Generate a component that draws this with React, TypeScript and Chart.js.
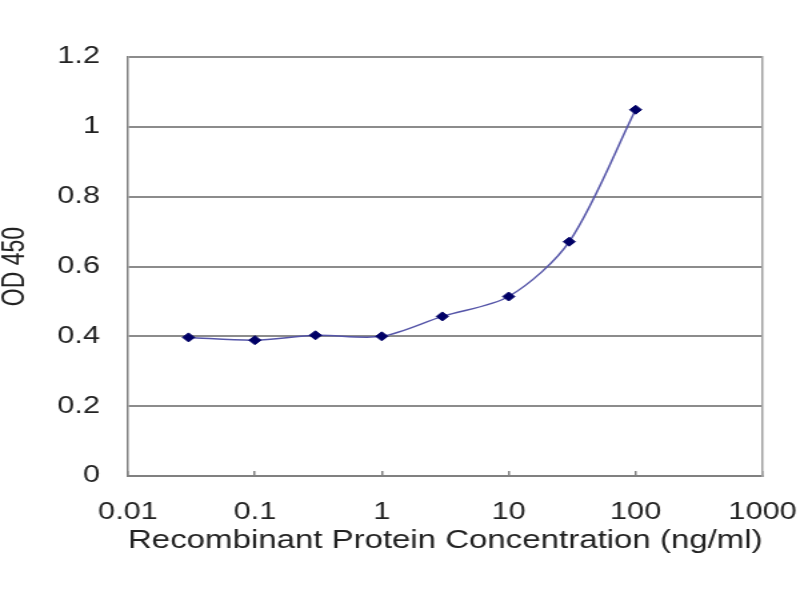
import React, { useEffect, useRef } from "react";
import { Chart, registerables } from "chart.js";

Chart.register(...registerables);

// Data
const concentrations = [0.03, 0.1, 0.3, 1, 3, 10, 30, 100];
const odValues = [0.397, 0.389, 0.403, 0.4, 0.457, 0.514, 0.671, 1.049];

const xTickValues = [0.01, 0.1, 1, 10, 100, 1000];
const xTickLabels = ["0.01", "0.1", "1", "10", "100", "1000"];
const yTickValues = [0, 0.2, 0.4, 0.6, 0.8, 1, 1.2];
const yTickLabels = ["0", "0.2", "0.4", "0.6", "0.8", "1", "1.2"];

const xTitle = "Recombinant Protein Concentration (ng/ml)";
const yTitle = "OD 450";

const FONT = "'Liberation Sans', Arial, Helvetica, sans-serif";
const TEXT = "#222222";

export default function App() {
  const ref = useRef<HTMLCanvasElement | null>(null);

  useEffect(() => {
    if (!ref.current) return;
    const chart = new Chart(ref.current, {
      type: "line",
      data: {
        datasets: [
          {
            data: concentrations.map((c, i) => ({ x: c, y: odValues[i] })),
            borderColor: "#5555a8",
            borderWidth: 1.5,
            tension: 0.3,
            pointStyle: "rectRot",
            pointRadius: 4.5,
            pointBackgroundColor: "#000066",
            pointBorderColor: "#000066",
            pointBorderWidth: 1,
            fill: false,
          },
        ],
      },
      options: {
        animation: false,
        responsive: false,
        devicePixelRatio: 1,
        layout: { padding: { left: 0, right: 0, top: 57, bottom: 0 } },
        plugins: {
          legend: { display: false },
          tooltip: { enabled: false },
        },
        scales: {
          x: {
            type: "logarithmic",
            position: "bottom",
            min: 0.01,
            max: 1000,
            afterBuildTicks: (scale: any) => {
              scale.ticks = xTickValues.map((v) => ({ value: v }));
            },
            afterFit: (scale: any) => {
              scale.height = 124;
            },
            ticks: {
              autoSkip: false,
              maxRotation: 0,
              padding: 2.5,
              color: TEXT,
              font: { family: FONT, size: 23, lineHeight: "79px" },
              callback: (_v: any, i: number) => xTickLabels[i],
            },
            grid: {
              drawOnChartArea: false,
              drawTicks: true,
              tickLength: -5,
              color: "#808080",
              lineWidth: 1.5,
            },
            border: { display: true, color: "#808080", width: 2 },
            title: {
              display: true,
              text: xTitle,
              color: TEXT,
              font: { family: FONT, size: 25, lineHeight: 1 },
              padding: { top: 0, bottom: 46.5 },
            },
          },
          y: {
            type: "linear",
            position: "left",
            min: 0,
            max: 1.2,
            afterBuildTicks: (scale: any) => {
              scale.ticks = yTickValues.map((v) => ({ value: v }));
            },
            afterFit: (scale: any) => {
              scale.width = 96;
            },
            ticks: {
              padding: 21,
              color: TEXT,
              font: { family: FONT, size: 23 },
              callback: (_v: any, i: number) => yTickLabels[i],
            },
            grid: {
              drawTicks: false,
              color: "#8c8c8c",
              lineWidth: 2,
            },
            border: { display: true, color: "#808080", width: 1.5 },
            title: {
              display: true,
              text: yTitle,
              color: TEXT,
              font: { family: FONT, size: 23, lineHeight: 1 },
              padding: { top: 0, bottom: 0 },
            },
          },
          y2: {
            type: "linear",
            position: "right",
            min: 0,
            max: 1.2,
            afterFit: (scale: any) => {
              scale.width = 0;
            },
            ticks: { display: false },
            grid: { drawOnChartArea: false, drawTicks: false },
            border: { display: true, color: "#a0a0a0", width: 1.5 },
          },
        },
      },
    });
    return () => chart.destroy();
  }, []);

  return (
    <div
      style={{
        position: "absolute",
        left: 0,
        top: 0,
        width: 800,
        height: 600,
        overflow: "hidden",
        background: "#ffffff",
      }}
    >
      <canvas
        ref={ref}
        width={600}
        height={600}
        style={{
          width: "600px",
          height: "600px",
          display: "block",
          transform: "scaleX(1.333333)",
          transformOrigin: "0 0",
        }}
      />
    </div>
  );
}
